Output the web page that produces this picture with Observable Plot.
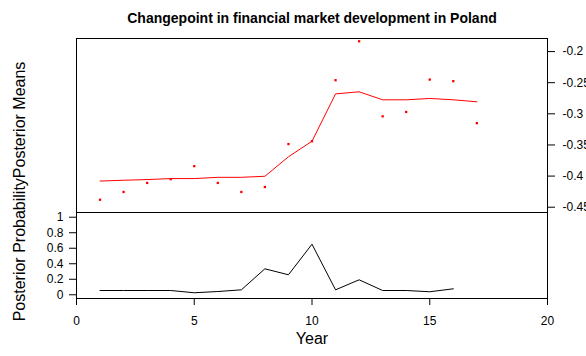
<!DOCTYPE html>
<html>
<head>
<meta charset="utf-8">
<script src="https://cdn.jsdelivr.net/npm/d3@7"></script>
<script src="https://cdn.jsdelivr.net/npm/@observablehq/plot@0.6"></script>
<style>
  html, body { margin: 0; padding: 0; background: white; }
  #wrap { position: relative; width: 586px; height: 356px; background: white; }
  #wrap svg { position: absolute; left: 0; top: 0; }
</style>
</head>
<body>
<div id="wrap"></div>
<script>
// ---- data ----
const years = [1, 2, 3, 4, 5, 6, 7, 8, 9, 10, 11, 12, 13, 14, 15, 16, 17];
const observed = [-0.438, -0.4255, -0.411, -0.405, -0.384, -0.411, -0.4255, -0.4175, -0.3486, -0.344, -0.246, -0.1835, -0.304, -0.297, -0.245, -0.2475, -0.315];
const posteriorMeans = [-0.408, -0.4067, -0.4056, -0.404, -0.404, -0.402, -0.402, -0.4003, -0.369, -0.344, -0.268, -0.2646, -0.2775, -0.2775, -0.2753, -0.2775, -0.2806];
const probYears = [1, 2, 3, 4, 5, 6, 7, 8, 9, 10, 11, 12, 13, 14, 15, 16];
const posteriorProbs = [0.055, 0.055, 0.055, 0.055, 0.026, 0.042, 0.064, 0.335, 0.258, 0.652, 0.064, 0.193, 0.055, 0.055, 0.039, 0.077];
const meanTicks = [-0.45, -0.4, -0.35, -0.3, -0.25, -0.2];
const probTicks = [0, 0.2, 0.4, 0.6, 0.8, 1];
const xTicks = [0, 5, 10, 15, 20];
const titleText = "Changepoint in financial market development in Poland";
const xLabel = "Year";
const yLabel = "Posterior ProbabilityPosterior Means";

const meanRows = years.map((y, i) => ({year: y, obs: observed[i], mean: posteriorMeans[i]}));
const probRows = probYears.map((y, i) => ({year: y, p: posteriorProbs[i]}));

const W = 586, H = 356;
const font = "'Liberation Sans', Arial, sans-serif";
const baseStyle = {fontFamily: font, fontSize: "12px", background: "transparent", color: "black", overflow: "visible"};

const topPlot = Plot.plot({
  width: W, height: H,
  marginLeft: 76, marginRight: 39, marginTop: 38, marginBottom: H - 212,
  style: baseStyle,
  x: {domain: [0, 20], axis: null},
  y: {domain: [-0.4585, -0.179], axis: "right", ticks: meanTicks, tickSize: 7, tickPadding: 8,
      tickFormat: d => String(d), label: null},
  marks: [
    Plot.frame({stroke: "black"}),
    Plot.line(meanRows, {x: "year", y: "mean", stroke: "red", strokeWidth: 1}),
    Plot.dot(meanRows, {x: "year", y: "obs", symbol: "square", r: 1.3, fill: "red", stroke: "none"}),
    Plot.text([titleText], {frameAnchor: "top", dy: -19.5, fontWeight: "bold", fontSize: 14, lineAnchor: "middle", fill: "black"})
  ]
});

const bottomPlot = Plot.plot({
  width: W, height: H,
  marginLeft: 76, marginRight: 39, marginTop: 212, marginBottom: H - 298,
  style: baseStyle,
  x: {domain: [0, 20], ticks: xTicks, tickSize: 7, tickPadding: 11, tickFormat: d => String(d), label: null},
  y: {domain: [-0.048, 1.061], axis: "left", ticks: probTicks, tickSize: 7, tickPadding: 6,
      tickFormat: d => String(d), label: null},
  marks: [
    Plot.frame({stroke: "black"}),
    Plot.line(probRows, {x: "year", y: "p", stroke: "black", strokeWidth: 1}),
    Plot.text([xLabel], {frameAnchor: "bottom", dy: 40, lineAnchor: "middle", fontSize: 16, fill: "black"}),
    Plot.text([yLabel], {frameAnchor: "left", dx: -56.3, dy: -64, rotate: -90, textAnchor: "middle", lineAnchor: "middle", fontSize: 16, fill: "black"})
  ]
});

const wrap = document.getElementById("wrap");
wrap.appendChild(topPlot);
wrap.appendChild(bottomPlot);
</script>
</body>
</html>
